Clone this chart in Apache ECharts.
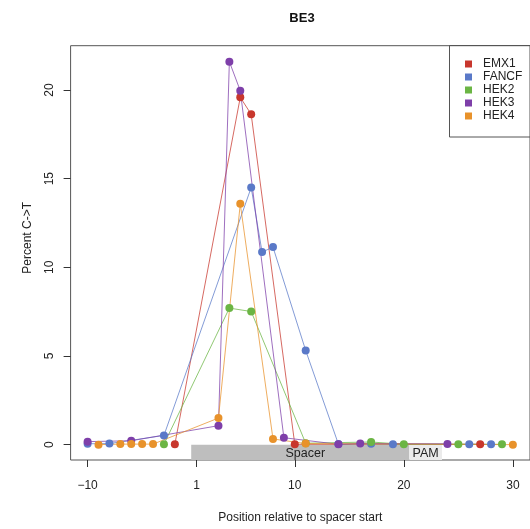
<!DOCTYPE html>
<html><head><meta charset="utf-8">
<script src="https://cdn.jsdelivr.net/npm/echarts@6/dist/echarts.min.js"></script>
<style>html,body{margin:0;padding:0;background:#fff}#c{width:530px;height:529px}</style>
</head><body><div id="c"></div>
<script>
// Positions relative to spacer start (no position 0)
const seriesNames = ['EMX1', 'FANCF', 'HEK2', 'HEK3', 'HEK4'];
const colors = ['#C8372D', '#5A79C8', '#6BB544', '#7E3FA9', '#E8922B'];
const emx1Pos = [-2, 5, 6, 10, 27];
const emx1Val = [0.02, 19.59, 18.63, 0.02, 0.02];
const fancfPos = [-10, -8, -3, 6, 7, 8, 11, 14, 17, 19, 26, 28];
const fancfVal = [0.05, 0.06, 0.52, 14.5, 10.86, 11.14, 5.31, 0.03, 0.05, 0.02, 0.02, 0.02];
const hek2Pos = [-3, 4, 6, 11, 17, 20, 25, 29];
const hek2Val = [0.02, 7.70, 7.51, 0.08, 0.15, 0.02, 0.02, 0.02];
const hek3Pos = [-10, -6, 3, 4, 5, 9, 14, 16, 24];
const hek3Val = [0.17, 0.22, 1.07, 21.6, 19.96, 0.39, 0.02, 0.07, 0.04];
const hek4Pos = [-9, -7, -6, -5, -4, 3, 5, 8, 11, 30];
const hek4Val = [0.0, 0.03, 0.03, 0.03, 0.03, 1.50, 13.58, 0.32, 0.06, 0.0];
const xTickLabels = [-10, 1, 10, 20, 30];
const yTicks = [0, 5, 10, 15, 20];
const spacerRange = [1, 20];
const pamRange = [21, 23];

// axis index: position 0 does not exist
function idx(p) { return p < 0 ? p + 10 : p + 9; }
function pos(i) { return i < 10 ? i - 10 : i - 9; }

const allPos = [emx1Pos, fancfPos, hek2Pos, hek3Pos, hek4Pos];
const allVal = [emx1Val, fancfVal, hek2Val, hek3Val, hek4Val];
const yMin = -0.866, yMax = 22.5;

const series = seriesNames.map((n, k) => ({
  name: n, type: 'line', z: 3,
  data: allPos[k].map((p, j) => [idx(p), allVal[k][j]]),
  symbol: 'circle', symbolSize: 8, showSymbol: true,
  itemStyle: { color: colors[k], opacity: 1 },
  lineStyle: { color: colors[k], width: 1, opacity: 0.75 },
  emphasis: { disabled: true }, animation: false
}));

series.push({
  name: '_areas', type: 'line', data: [], z: 1, silent: true,
  markArea: {
    silent: true,
    data: [
      [{ xAxis: idx(spacerRange[0]) - 0.5, yAxis: 0, itemStyle: { color: '#BEBEBE' },
         label: { show: true, position: 'inside', offset: [5, 1], formatter: 'Spacer', color: '#222', fontSize: 12.5, fontFamily: 'Liberation Sans, Arial, sans-serif' } },
       { xAxis: idx(spacerRange[1]) + 0.5, yAxis: yMin }],
      [{ xAxis: idx(pamRange[0]) - 0.5, yAxis: 0, itemStyle: { color: '#EBEBEB' },
         label: { show: true, position: 'inside', offset: [0, 1], formatter: 'PAM', color: '#222', fontSize: 12.5, fontFamily: 'Liberation Sans, Arial, sans-serif' } },
       { xAxis: idx(pamRange[1]) + 0.5, yAxis: yMin }]
    ]
  }
});

const font = 'Liberation Sans, Arial, sans-serif';
const chart = echarts.init(document.getElementById('c'), null, { renderer: 'canvas' });
chart.setOption({
  animation: false,
  backgroundColor: '#fff',
  title: { text: 'BE3', left: 297, top: 7, textAlign: 'center',
    textStyle: { fontSize: 13, fontWeight: 'bold', color: '#111', fontFamily: font } },
  grid: { left: 70.6, right: -2, top: 45.7, bottom: 68.3, show: true, borderColor: '#555', borderWidth: 1, backgroundColor: 'transparent' },
  legend: {
    data: seriesNames, orient: 'vertical', left: 460, top: 53,
    icon: 'rect', itemWidth: 7, itemHeight: 7, itemGap: 1,
    textStyle: { fontSize: 12, color: '#222', fontFamily: font, padding: [0, 0, 0, 6] },
    selectedMode: false
  },
  graphic: [{ type: 'rect', shape: { x: 449.5, y: 45.5, width: 100, height: 91.5 },
    style: { fill: 'transparent', stroke: '#555', lineWidth: 1 }, z: 100 }],
  xAxis: {
    type: 'value', min: -1.56, max: 40.57,
    name: 'Position relative to spacer start', nameLocation: 'middle', nameGap: 52,
    nameTextStyle: { fontSize: 12, color: '#222', fontFamily: font },
    axisLine: { show: false, onZero: false },
    axisTick: { show: true, length: 7, lineStyle: { color: '#333' }, customValues: xTickLabels.map(idx) },
    axisLabel: { color: '#222', fontSize: 12, fontFamily: font, margin: 20,
      customValues: xTickLabels.map(idx),
      formatter: v => { const p = pos(Math.round(v)); return p < 0 ? '\u2212' + (-p) : String(p); } },
    splitLine: { show: false }
  },
  yAxis: {
    type: 'value', min: yMin, max: yMax,
    name: 'Percent C->T', nameLocation: 'middle', nameGap: 37, nameRotate: 90,
    nameTextStyle: { fontSize: 12, color: '#222', fontFamily: font, padding: [0, 0, 0, 30] },
    axisLine: { show: false, onZero: false },
    axisTick: { show: true, length: 7, lineStyle: { color: '#333' }, customValues: yTicks },
    axisLabel: { color: '#222', fontSize: 12, fontFamily: font, rotate: 90, margin: 15, customValues: yTicks },
    splitLine: { show: false }
  },
  series: series
});
</script></body></html>
